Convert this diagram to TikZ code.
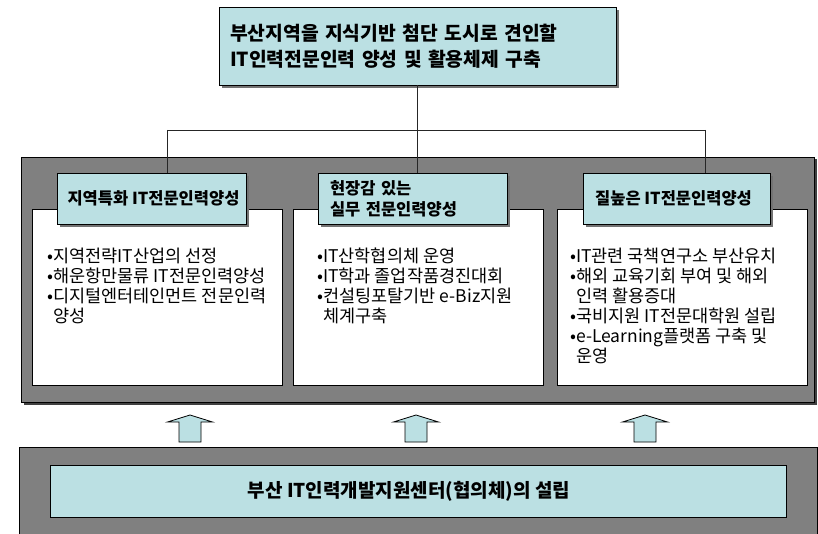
\documentclass[tikz,border=0pt]{standalone}
\usepackage{fontspec}
\setmainfont{Noto Sans CJK KR}
\usetikzlibrary{shadows}
\definecolor{boxteal}{HTML}{BBE0E3}
\definecolor{panelgray}{HTML}{808080}
\tikzset{
  panel/.style={draw=black, line width=0.8pt, fill=panelgray, inner sep=0pt,
    general shadow={fill=black!75, shadow xshift=2.5pt, shadow yshift=-2.5pt}},
  tealbox/.style={draw=black, line width=0.8pt, fill=boxteal,
    general shadow={fill=black!55, shadow xshift=3pt, shadow yshift=-3pt}},
  subtitle/.style={tealbox, inner xsep=0pt, align=left,
    minimum height=51pt, font=\bfseries\fontsize{16.5}{21}\selectfont},
  whitebox/.style={draw=black, line width=0.8pt, fill=white, inner sep=0pt,
    minimum width=250pt, minimum height=176pt},
  bullets/.style={anchor=north west, inner sep=0pt, align=left,
    font=\fontsize{17.5}{20}\selectfont},
  conn/.style={draw=black!85, line width=0.9pt},
  uparrow/.style={draw=black, line width=0.8pt, fill=boxteal, line join=miter}
}
\begin{document}
\begin{tikzpicture}[x=1pt,y=-1pt]
\useasboundingbox (0,0) rectangle (818,534);

% top title box
\node[tealbox, minimum width=397pt, minimum height=78pt, inner xsep=0pt,
      text width=375pt, align=left, font=\bfseries\fontsize{19.3}{26}\selectfont]
  (top) at (417.5,46) {부산지역을 지식기반 첨단 도시로 견인할\\IT인력전문인력 양성 및 활용체제 구축};

% upper gray panel and white boxes
\node[panel, minimum width=793pt, minimum height=245pt] (upper) at (417.5,279.5) {};
\node[whitebox] (w1) at (157,297) {};
\node[whitebox] (w2) at (418,297) {};
\node[whitebox] (w3) at (682,297) {};

% connectors
\coordinate (j1) at (167,130);
\coordinate (j2) at (417.5,130);
\coordinate (j3) at (705,130);
\draw[conn] (top.south) -- (j2);
\draw[conn] (j1) -- (j3);

% subtitle boxes
\node[subtitle, minimum width=189pt] (t1) at (151.5,198.5) {지역특화 IT전문인력양성\hspace*{-4pt}};
\node[subtitle, minimum width=189pt, text width=165pt] (t2) at (412.5,198.5) {현장감 있는\\실무 전문인력양성};
\node[subtitle, minimum width=187pt] (t3) at (676.5,198.5) {질높은 IT전문인력양성\hspace*{6pt}};
\draw[conn] (j1) -- (j1 |- t1.north);
\draw[conn] (j2) -- (j2 |- t2.north);
\draw[conn] (j3) -- (j3 |- t3.north);

% bullet texts
\node[bullets] (b1) at (47,247.5) {•지역전략IT산업의 선정\\•해운항만물류 IT전문인력양성\\•디지털엔터테인먼트 전문인력\\\hphantom{•}양성};
\node[bullets] (b2) at (317,247.5) {•IT산학협의체 운영\\•IT학과 졸업작품경진대회\\•컨설팅포탈기반 e-Biz지원\\\hphantom{•}체계구축};
\node[bullets] (b3) at (570,247.5) {•IT관련 국책연구소 부산유치\\•해외 교육기회 부여 및 해외\\\hphantom{•}인력 활용증대\\•국비지원 IT전문대학원 설립\\•e-Learning플랫폼 구축 및\\\hphantom{•}운영};

% block arrows
\foreach \x in {190,416,645} {
  \draw[uparrow] (\x-11,442) -- (\x-11,422) -- (\x-22.5,422) -- (\x,415)
     -- (\x+22.5,422) -- (\x+11,422) -- (\x+11,442) -- cycle;
}

% bottom panel
\node[panel, minimum width=798pt, minimum height=100pt] (lower) at (418,497) {};
\node[draw=black, line width=0.8pt, fill=boxteal, minimum width=736pt, minimum height=52pt,
      font=\bfseries\fontsize{19}{22}\selectfont] (base) at (418,491)
  {부산 IT인력개발지원센터(협의체)의 설립\hspace*{18pt}};
\end{tikzpicture}
\end{document}
